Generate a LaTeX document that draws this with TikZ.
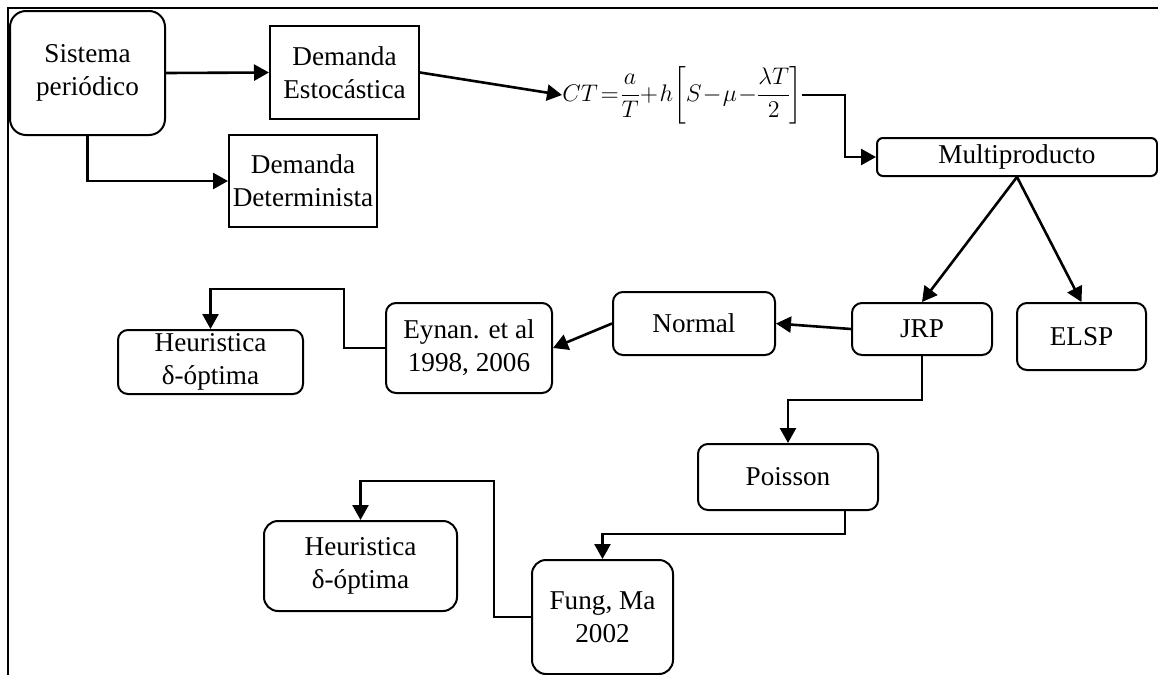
\documentclass[tikz,border=0pt]{standalone}
\usepackage{fontspec}
\setmainfont{Liberation Serif}
\usepackage{amsmath}
\usetikzlibrary{arrows.meta}

\begin{document}
\begin{tikzpicture}[x=0.5pt, y=-0.5pt,
  font=\fontsize{13.6}{16.5}\selectfont,
  box/.style={draw, line width=1pt, align=center, inner sep=0pt},
  rbox/.style={box, rounded corners=5pt},
  arr/.style={line width=1.3pt, -{Triangle[length=7.5pt, width=8pt]}}]

\useasboundingbox (0,0) rectangle (1158,675);

% Frame (top and left edge only)
\draw [line width=1.3pt] (8,675) -- (8,8) -- (1158,8);

% Upper row
\node [box, rounded corners=8pt, minimum width=77.5pt, minimum height=62pt] (sis) at (87.5,73) {Sistema\\periódico};
\node [box, minimum width=74.5pt, minimum height=46.5pt] (esto) at (344.5,72.5) {Demanda\\Estocástica};
\node [box, minimum width=74pt, minimum height=46pt] (det) at (303,181) {Demanda\\Determinista};
\node [anchor=west, inner sep=0pt, font=\fontsize{12.5}{14}\selectfont] (ct) at (562,95)
  {$\thickmuskip=2mu \medmuskip=1mu \nulldelimiterspace=0pt
   \displaystyle CT=\frac{a}{T}+h\!\left[S-\mu-\frac{\lambda T}{2}\right]$};
\node [rbox, rounded corners=3pt, minimum width=140pt, minimum height=19pt] (multi) at (1017,157) {Multiproducto};

% Middle row
\node [rbox, minimum width=70pt, minimum height=26pt] (jrp) at (922,329) {JRP};
\node [rbox, minimum width=64.5pt, minimum height=33.5pt] (elsp) at (1081.5,336.5) {ELSP};
\node [rbox, minimum width=81pt, minimum height=31.5pt] (normal) at (694,323.5) {Normal};
\node [rbox, minimum width=83pt, minimum height=45pt] (eynan) at (469,348) {Eynan. et al\\1998, 2006};
\node [rbox, minimum width=92.5pt, minimum height=32pt] (heura) at (210.5,362) {Heuristica\\δ-óptima};

% Lower row
\node [rbox, minimum width=90pt, minimum height=33pt] (poisson) at (788,477) {Poisson};
\node [rbox, rounded corners=7pt, minimum width=70.5pt, minimum height=57pt] (fung) at (602.5,617) {Fung, Ma\\2002};
\node [rbox, rounded corners=7pt, minimum width=96.5pt, minimum height=45pt] (heurb) at (360.5,566) {Heuristica\\δ-óptima};

% Bend points
\coordinate (cm) at (845,95);
\coordinate (eyb) at (344,289);
\coordinate (pf) at (845,534);
\coordinate (fh) at (494,481);

% Connectors
\draw [arr] (sis.east) -- (esto.west);
\draw [arr] (sis.south) |- (det.west);
\draw [arr] (esto.east) -- (ct.west);
\draw [arr] (ct.east) -- (cm) |- (multi.west);
\draw [arr] (multi.south) -- (jrp.north);
\draw [arr] (multi.south) -- (elsp.north);
\draw [arr] (jrp.west) -- (normal.east);
\draw [arr] (normal.west) -- (eynan.east);
\draw [arr] (eynan.west) -| (eyb) -| (heura.north);
\draw [arr] (jrp.south) -- ++(0,44) -| (poisson.north);
\draw [arr] (pf |- poisson.south) -- (pf) -| (fung.north);
\draw [arr] (fung.west) -| (fh) -| (heurb.north);

\end{tikzpicture}
\end{document}
